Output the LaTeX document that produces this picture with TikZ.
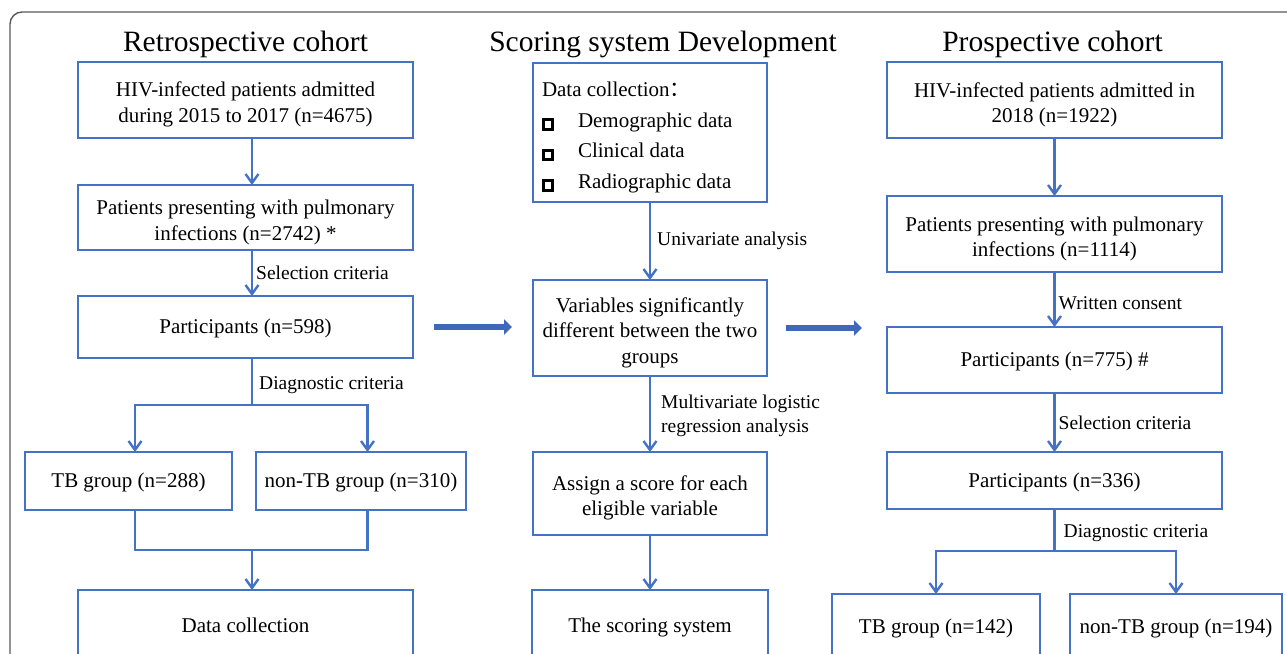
\documentclass[tikz,border=0pt]{standalone}
\usepackage{fontspec}
\setmainfont{Liberation Serif}
\newfontfamily\cjk{Noto Sans CJK SC}
\usepackage{xcolor}
\usetikzlibrary{arrows.meta, positioning}
\definecolor{boxblue}{HTML}{4472C4}
\definecolor{fatblue}{HTML}{3F68B8}
\definecolor{framegray}{HTML}{595959}
\newcommand{\sqbox}{\raisebox{-0.5pt}{\setlength{\fboxrule}{2.8pt}\setlength{\fboxsep}{0pt}\fbox{\rule{0pt}{6.5pt}\rule{6.5pt}{0pt}}}}

\begin{document}
\begin{tikzpicture}[x = 1pt, y = -1pt,
    every node/.style = {font = \fontsize{21}{25.5}\selectfont},
    box/.style = {rectangle, draw = boxblue, line width = 1.8pt, minimum width = 335pt, text width = 320pt,
                  align = flush center, inner sep = 3pt, outer sep = 0pt, execute at begin node = {\rule{0pt}{17.5pt}}},
    small/.style = {text width = 200pt},
    mid/.style = {minimum width = 234pt, text width = 226pt},
    multi/.style = {execute at begin node = {\rule{0pt}{24pt}}},
    title/.style = {font = \fontsize{29.5}{34}\selectfont, anchor = base},
    lab/.style = {font = \fontsize{19.5}{24}\selectfont, right, align = left, inner sep = 3pt},
    conn/.style = {draw = boxblue, line width = 2.4pt},
    arr/.style = {conn, -{Straight Barb[length = 9pt, width = 13pt]}},
    fat/.style = {draw = fatblue, line width = 6pt, -{Triangle[length = 8pt, width = 15pt]}}]
    \useasboundingbox (0,0) rectangle (1287,653);
    \clip (0,0) rectangle (1287,653);
    \draw[framegray, line width = 1.4pt, rounded corners = 12pt] (10,12) rectangle (1310,700);

    % titles
    \node[title] (tl) at (245.5,51) {Retrospective cohort};
    \node[title] (tm) at (663,51) {Scoring system Development};
    \node[title] (tr) at (1052.5,51) {Prospective cohort};

    % retrospective cohort
    \node[box, multi, minimum height = 76pt] (a1) at (245.5,100) {HIV-infected patients admitted\\during 2015 to 2017 (n=4675)};
    \node[box, multi, minimum height = 65pt] (a2)[below = 47pt of a1]{Patients presenting with pulmonary\\infections (n=2742) *};
    \node[box, minimum height = 62pt] (a3)[below = 46pt of a2]{Participants (n=598)};
    \node[box, small, minimum width = 207pt, minimum height = 58pt] (a4)[below = 94pt of a3, xshift = -117pt]{TB group (n=288)};
    \node[box, small, minimum width = 210pt, minimum height = 58pt] (a5)[right = 24pt of a4]{non-TB group (n=310)};
    \node[box, minimum height = 68pt] (a6)[below = 232pt of a3]{Data collection};
    \coordinate (lx) at (252,0);
    \draw[arr] (a1.south -| lx) -- (a2.north -| lx);
    \draw[arr] (a2.south -| lx) -- node[lab]{Selection criteria} (a3.north -| lx);
    \draw[conn] (a3.south -| lx) -- node[lab, xshift = 3pt, yshift = -4pt]{Diagnostic criteria} ++(0,47) coordinate (j1);
    \draw[arr] (j1) -| ([xshift = 6.5pt]a4.north);
    \draw[arr] (j1) -| ([xshift = 6.5pt]a5.north);
    \draw[conn] ([xshift = 6.5pt]a4.south) -- ++(0,40) coordinate (j2) -| ([xshift = 6.5pt]a5.south);
    \draw[arr] (j2 -| lx) -- (a6.north -| lx);

    % scoring system
    \node[box, mid, minimum height = 139pt, text width = 216pt, align = flush left,
          font = \fontsize{21}{30.5}\selectfont, execute at begin node = {\rule{0pt}{24.5pt}}] (m1) at (650,132.5)
        {Data collection{\cjk ：}\\
         \makebox[36pt][l]{\sqbox}Demographic data\\
         \makebox[36pt][l]{\sqbox}Clinical data\\
         \makebox[36pt][l]{\sqbox}Radiographic data};
    \node[box, mid, multi, minimum height = 96pt] (m2)[below = 78pt of m1]{Variables significantly\\different between the two\\groups};
    \node[box, mid, multi, minimum height = 83pt] (m3)[below = 76pt of m2]{Assign a score for each\\eligible variable};
    \node[box, mid, minimum width = 236pt, minimum height = 72pt] (m4)[below = 55pt of m3]{The scoring system};
    \draw[arr] (m1) -- node[lab, xshift = 3pt]{Univariate analysis} (m2);
    \draw[arr] (m2) -- node[lab, xshift = 7pt, yshift = -2pt]{Multivariate logistic\\regression analysis} (m3);
    \draw[arr] (m3) -- (m4);

    % prospective cohort
    \node[box, multi, minimum height = 76pt] (r1) at (1054.5,100) {HIV-infected patients admitted in\\2018 (n=1922)};
    \node[box, multi, minimum height = 76pt] (r2)[below = 58pt of r1]{Patients presenting with pulmonary\\infections (n=1114)};
    \node[box, minimum height = 66pt] (r3)[below = 55pt of r2]{Participants (n=775) \#};
    \node[box, minimum height = 57pt] (r4)[below = 59pt of r3]{Participants (n=336)};
    \node[box, small, minimum width = 208pt, minimum height = 66pt] (r5)[below = 85pt of r4, xshift = -118.5pt]{TB group (n=142)};
    \node[box, small, minimum width = 212pt, minimum height = 66pt] (r6)[right = 30pt of r5]{non-TB group (n=194)};
    \draw[arr] (r1) -- (r2);
    \draw[arr] (r2) -- node[lab, yshift = -4pt]{Written consent} (r3);
    \draw[arr] (r3) -- node[lab]{Selection criteria} (r4);
    \draw[conn] (r4.south) -- node[lab, xshift = 5pt, yshift = -3pt]{Diagnostic criteria} ++(0,42) coordinate (j3);
    \draw[arr] (j3) -| (r5.north);
    \draw[arr] (j3) -| (r6.north);

    % big arrows
    \draw[fat, shorten <= 21pt, shorten >= 21pt] (a3.east) -- (a3.east -| m2.west);
    \draw[fat, shorten <= 19pt, shorten >= 25pt] (m2.east) -- (m2.east -| r3.west);
\end{tikzpicture}
\end{document}
